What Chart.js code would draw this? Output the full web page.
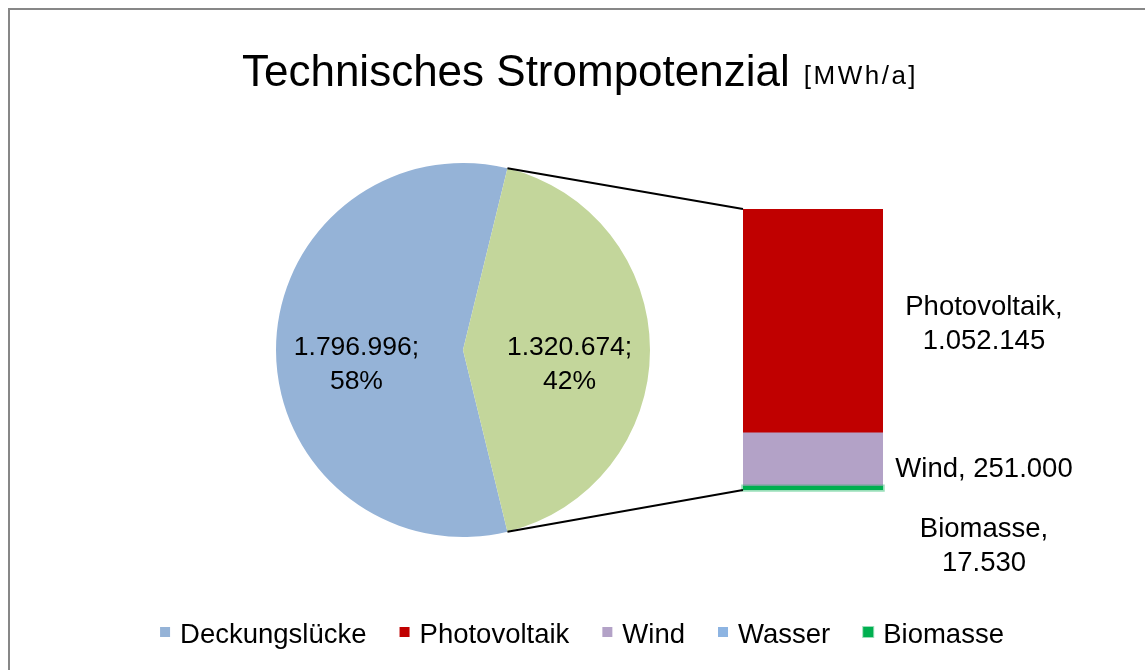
<!DOCTYPE html>
<html>
<head>
<meta charset="utf-8">
<script src="https://cdn.jsdelivr.net/npm/chart.js@4.4.1/dist/chart.umd.min.js"></script>
<style>
  body { margin: 0; background: #fff; overflow: hidden; }
  #wrap { position: relative; width: 1145px; height: 670px; overflow: hidden; }
  #frame { position: absolute; left: 8px; top: 8px; width: 1200px; height: 700px; border: 2px solid #878787; }
  canvas { position: absolute; left: 0; top: 0; }
</style>
</head>
<body>
<div id="wrap">
  <div id="frame"></div>
  <canvas id="chart-pie" width="1145" height="670"></canvas>
  <canvas id="chart-bar" width="1145" height="670"></canvas>
</div>
<script>
// pie: Deckungslücke vs. technisches Potenzial
const pieLabels = ['Deckungslücke', 'Potenzial'];
const pieValues = [1796996, 1320674];
const pieColors = ['#95b3d7', '#c3d69b'];

// bar: Aufteilung des Potenzials (top to bottom)
const barLabels = ['Photovoltaik', 'Wind', 'Wasser', 'Biomasse'];
const barValues = [1052145, 251000, 0, 17530];
const barColors = ['#c00000', '#b3a2c7', '#8db4e2', '#00b050'];

const legendLabels = ['Deckungslücke', 'Photovoltaik', 'Wind', 'Wasser', 'Biomasse'];
const legendColors = ['#95b3d7', '#c00000', '#b3a2c7', '#8db4e2', '#00b050'];

const FONT = '"Liberation Sans", Arial, sans-serif';
const HALO = 'rgba(0,176,80,0.4)';
const fmt = n => String(n).replace(/\B(?=(\d{3})+(?!\d))/g, '.');
const pieTotal = pieValues.reduce((a, b) => a + b, 0);

// title, pie labels, legend
const pieDeco = {
  id: 'pieDeco',
  afterDraw(chart) {
    const ctx = chart.ctx;
    ctx.save();
    ctx.fillStyle = '#000';
    ctx.textBaseline = 'alphabetic';

    // title
    const t1 = 'Technisches Strompotenzial', t2 = '[MWh/a]';
    ctx.font = '44px ' + FONT;
    const w1 = ctx.measureText(t1).width;
    ctx.font = '26px ' + FONT;
    ctx.letterSpacing = '2.5px';
    const w2 = ctx.measureText(t2).width;
    const x0 = 580 - (w1 + 14 + w2) / 2;
    ctx.letterSpacing = '0px';
    ctx.font = '44px ' + FONT;
    ctx.textAlign = 'left';
    ctx.fillText(t1, x0, 86);
    ctx.font = '26px ' + FONT;
    ctx.letterSpacing = '2.5px';
    ctx.fillText(t2, x0 + w1 + 14, 84);
    ctx.letterSpacing = '0px';

    // slice labels
    ctx.font = '26.5px ' + FONT;
    ctx.textAlign = 'center';
    ctx.textBaseline = 'middle';
    chart.getDatasetMeta(0).data.forEach((arc, i) => {
      const mid = (arc.startAngle + arc.endAngle) / 2;
      const x = arc.x + Math.cos(mid) * arc.outerRadius * 0.57;
      const y = arc.y + Math.sin(mid) * arc.outerRadius * 0.57 + 15;
      const pct = Math.round(pieValues[i] / pieTotal * 100);
      ctx.fillText(fmt(pieValues[i]) + ';', x, y - 17);
      ctx.fillText(pct + '%', x, y + 17);
    });

    // legend
    ctx.font = '27.5px ' + FONT;
    ctx.textAlign = 'left';
    ctx.textBaseline = 'middle';
    const gap = 33, box = 10, boxGap = 10;
    const widths = legendLabels.map(l => ctx.measureText(l).width);
    const total = widths.reduce((a, w) => a + box + boxGap + w, 0) + gap * (legendLabels.length - 1);
    let x = 582 - total / 2;
    const ly = 635;
    legendLabels.forEach((l, i) => {
      ctx.fillStyle = legendColors[i];
      ctx.fillRect(x, ly - 8, box, box);
      if (l === 'Biomasse') {
        ctx.strokeStyle = HALO;
        ctx.lineWidth = 2;
        ctx.strokeRect(x, ly - 8, box, box);
      }
      ctx.fillStyle = '#000';
      ctx.fillText(l, x + box + boxGap, ly);
      x += box + boxGap + widths[i] + gap;
    });
    ctx.restore();
  }
};

const pieChart = new Chart(document.getElementById('chart-pie'), {
  type: 'pie',
  data: {
    labels: pieLabels,
    datasets: [{ data: pieValues, backgroundColor: pieColors, borderWidth: 0 }]
  },
  options: {
    responsive: false,
    animation: false,
    rotation: 90 + 180 * pieValues[1] / pieTotal,
    layout: { padding: { top: 163, bottom: 133, left: 0, right: 219 } },
    plugins: { legend: { display: false }, tooltip: { enabled: false } }
  },
  plugins: [pieDeco]
});

// stacked from the bottom: reverse of the list order
const stackOrder = barLabels.map((_, i) => i).reverse();
const barTotal = barValues.reduce((a, b) => a + b, 0);
const labelShift = { Photovoltaik: 3, Wind: 10, Biomasse: 58 };

const barDeco = {
  id: 'barDeco',
  afterDraw(chart) {
    const ctx = chart.ctx;
    const y = chart.scales.y;
    const x = chart.scales.x;
    const left = x.left, right = x.right;
    const top = y.getPixelForValue(barTotal), bottom = y.getPixelForValue(0);

    ctx.save();
    // light outline round the Biomasse segment
    chart.data.datasets.forEach((ds, di) => {
      if (ds.label !== 'Biomasse') return;
      const el = chart.getDatasetMeta(di).data[0];
      ctx.strokeStyle = HALO;
      ctx.lineWidth = 2.5;
      ctx.strokeRect(el.x - el.width / 2 - 0.5, el.y - 0.5, el.width + 1, el.base - el.y + 1);
    });

    // connector lines from the pie slice to the bar
    const arc = pieChart.getDatasetMeta(0).data[1];
    const r = arc.outerRadius;
    ctx.strokeStyle = '#000';
    ctx.lineWidth = 2;
    ctx.beginPath();
    ctx.moveTo(arc.x + Math.cos(arc.startAngle) * r, arc.y + Math.sin(arc.startAngle) * r);
    ctx.lineTo(left, top);
    ctx.moveTo(arc.x + Math.cos(arc.endAngle) * r, arc.y + Math.sin(arc.endAngle) * r);
    ctx.lineTo(left, bottom);
    ctx.stroke();

    // segment labels
    ctx.font = '27.5px ' + FONT;
    ctx.fillStyle = '#000';
    ctx.textAlign = 'center';
    ctx.textBaseline = 'middle';
    chart.data.datasets.forEach((ds, di) => {
      const v = ds.data[0];
      if (!v) return;
      const el = chart.getDatasetMeta(di).data[0];
      const cy = (el.y + el.base) / 2 + (labelShift[ds.label] || 0);
      const cx = right + 101;
      const one = ds.label + ', ' + fmt(v);
      if (ctx.measureText(one).width < 190) {
        ctx.fillText(one, cx, cy);
      } else {
        ctx.fillText(ds.label + ',', cx, cy - 17);
        ctx.fillText(fmt(v), cx, cy + 17);
      }
    });
    ctx.restore();
  }
};

new Chart(document.getElementById('chart-bar'), {
  type: 'bar',
  data: {
    labels: ['Potenzial'],
    datasets: stackOrder.map(i => ({
      label: barLabels[i],
      data: [barValues[i]],
      backgroundColor: barColors[i],
      borderWidth: 0,
      barPercentage: 1,
      categoryPercentage: 1
    }))
  },
  options: {
    responsive: false,
    animation: false,
    layout: { padding: { top: 209, bottom: 180, left: 743, right: 262 } },
    scales: {
      x: { display: false, stacked: true },
      y: { display: false, stacked: true, min: 0, max: barTotal }
    },
    plugins: { legend: { display: false }, tooltip: { enabled: false } }
  },
  plugins: [barDeco]
});
</script>
</body>
</html>
